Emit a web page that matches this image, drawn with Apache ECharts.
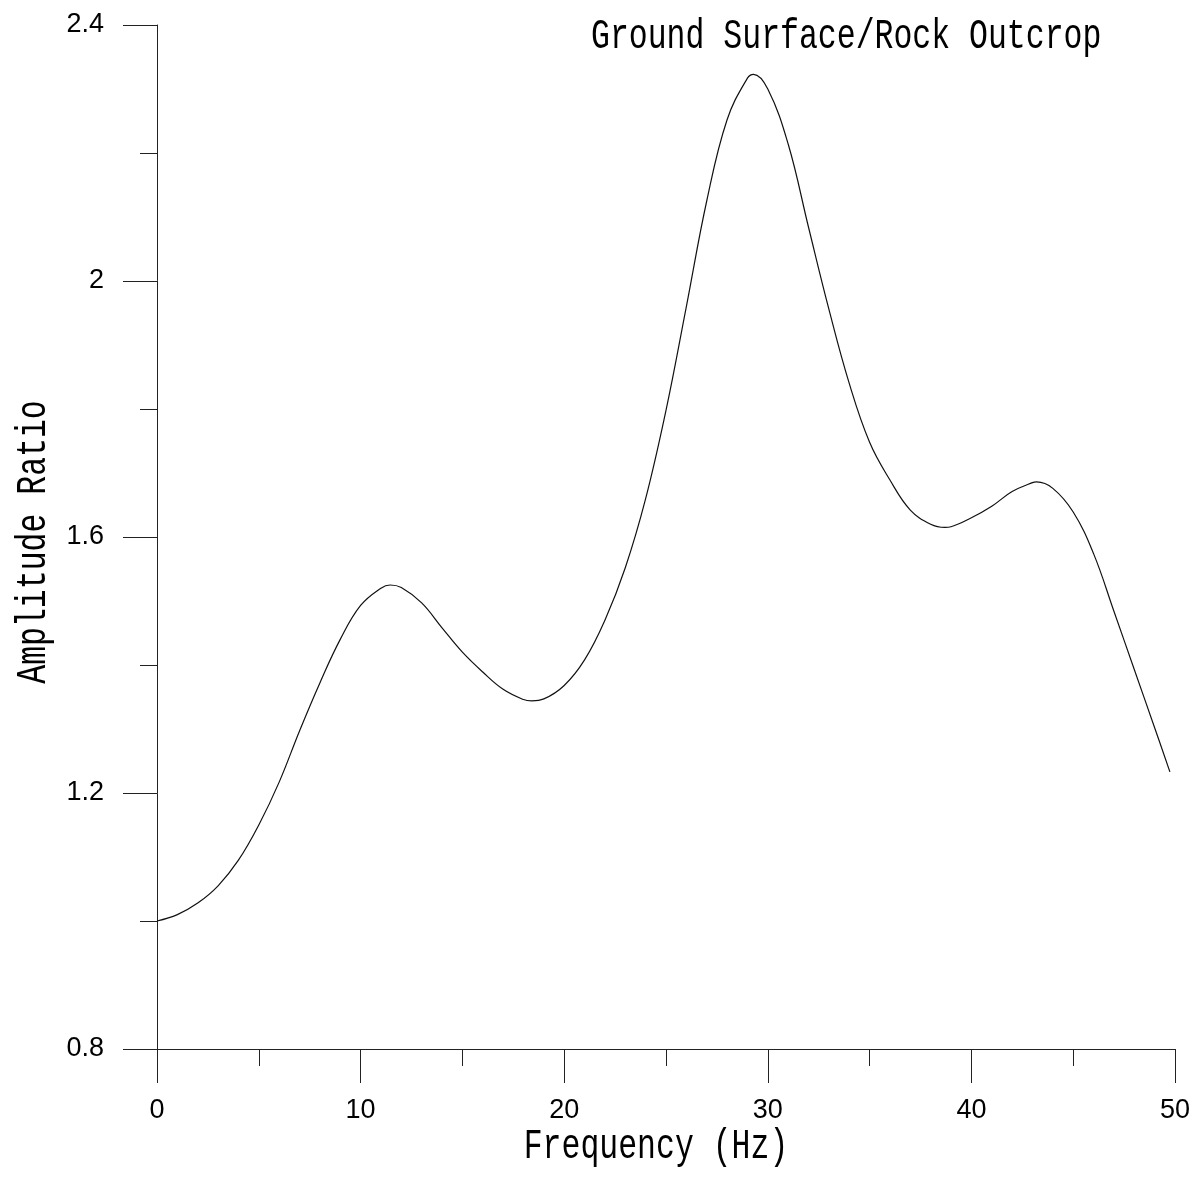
<!DOCTYPE html>
<html>
<head>
<meta charset="utf-8">
<title>Ground Surface/Rock Outcrop</title>
<script src="https://cdn.jsdelivr.net/npm/echarts@6/dist/echarts.min.js"></script>
<style>
  html, body { margin: 0; padding: 0; background: #ffffff; }
  #chart { width: 1203px; height: 1177px; }
</style>
</head>
<body>
<div id="chart"></div>
<script>
// Spectral amplification: ground surface / rock outcrop
const frequencyHz = [0, 1, 2, 3, 4, 5, 6, 7, 8, 9, 10, 11, 11.45, 12, 13, 14, 15, 16, 17, 18, 18.4, 19, 20,
  21, 22, 23, 24, 25, 26, 27, 28, 29, 29.3, 30, 31, 32, 33, 34, 35, 36, 37, 38, 38.7, 39, 40,
  41, 42, 43, 43.2, 44, 45, 46, 47, 48, 49, 49.75];
const amplitudeRatio = [1.000, 1.010, 1.028, 1.055, 1.095, 1.150, 1.217, 1.297, 1.372, 1.440, 1.493,
  1.520, 1.525, 1.521, 1.497, 1.458, 1.420, 1.389, 1.362, 1.346, 1.344, 1.347, 1.368,
  1.408, 1.470, 1.552, 1.660, 1.798, 1.960, 2.125, 2.252, 2.317, 2.323, 2.300,
  2.214, 2.084, 1.956, 1.840, 1.748, 1.689, 1.642, 1.620, 1.615, 1.616, 1.630,
  1.648, 1.671, 1.685, 1.686, 1.676, 1.639, 1.574, 1.484, 1.393, 1.302, 1.233];

const titleText = 'Ground Surface/Rock Outcrop';
const xAxisTitle = 'Frequency (Hz)';
const yAxisTitle = 'Amplitude Ratio';

const points = frequencyHz.map((f, i) => [f, amplitudeRatio[i]]);

// Tall, narrow monospace lettering
const nameFont = 'Liberation Mono';
const nameSize = 31.5;
const nameStretch = 1.36;

const chart = echarts.init(document.getElementById('chart'), null, { renderer: 'canvas' });

const axisLine = { show: true, onZero: false, lineStyle: { color: '#222', width: 1 } };
const tickLabel = { color: '#000', fontFamily: 'Liberation Sans', fontSize: 27 };

chart.setOption({
  backgroundColor: '#ffffff',
  animation: false,
  grid: { left: 157, right: 28, top: 25, bottom: 128, containLabel: false },
  xAxis: {
    type: 'value',
    min: 0, max: 50, interval: 10,
    axisLine: axisLine,
    axisTick: { show: true, inside: false, length: 34, lineStyle: { color: '#222', width: 1 } },
    minorTick: { show: true, splitNumber: 2, length: 17, lineStyle: { color: '#222', width: 1 } },
    splitLine: { show: false },
    minorSplitLine: { show: false },
    axisLabel: Object.assign({ margin: 48 }, tickLabel)
  },
  yAxis: {
    type: 'value',
    min: 0.8, max: 2.4, interval: 0.4,
    axisLine: axisLine,
    axisTick: { show: true, inside: false, length: 34, lineStyle: { color: '#222', width: 1 } },
    minorTick: { show: true, splitNumber: 2, length: 17, lineStyle: { color: '#222', width: 1 } },
    splitLine: { show: false },
    minorSplitLine: { show: false },
    axisLabel: Object.assign({ margin: 53 }, tickLabel)
  },
  series: [{
    type: 'line',
    data: points,
    smooth: 0.4,
    showSymbol: false,
    lineStyle: { color: '#111', width: 1.2 }
  }],
  graphic: [
    {
      type: 'text', x: 591, y: 37, scaleY: nameStretch,
      style: { text: titleText, fontFamily: nameFont, fontSize: nameSize, fill: '#000',
               textAlign: 'left', textVerticalAlign: 'middle' }
    },
    {
      type: 'text', x: 656, y: 1147, scaleY: nameStretch,
      style: { text: xAxisTitle, fontFamily: nameFont, fontSize: nameSize, fill: '#000',
               textAlign: 'center', textVerticalAlign: 'middle' }
    },
    {
      type: 'text', x: 34, y: 542, rotation: Math.PI / 2, scaleY: nameStretch,
      style: { text: yAxisTitle, fontFamily: nameFont, fontSize: nameSize, fill: '#000',
               textAlign: 'center', textVerticalAlign: 'middle' }
    }
  ]
});
</script>
</body>
</html>
